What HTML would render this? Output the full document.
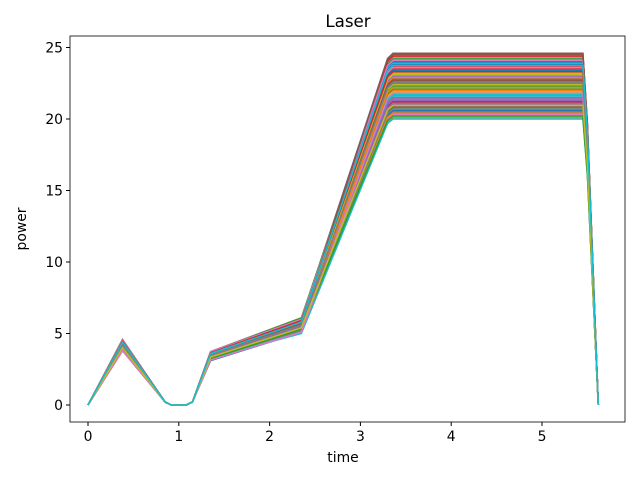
<!DOCTYPE html>
<html><head><meta charset="utf-8"><style>
body{margin:0;background:#fff}
svg{display:block;font-family:"DejaVu Sans","Liberation Sans",sans-serif}
</style></head><body>
<svg id="chart" width="640" height="480">
<rect width="640" height="480" fill="#fff"/>
<text x="348" y="27" font-size="16.7" text-anchor="middle">Laser</text>
<g id="lines"></g>
<rect x="70" y="36" width="555" height="386" fill="none" stroke="#000" stroke-width="0.8"/>
<g id="xt"></g>
<g id="yt"></g>
<text x="343" y="462" font-size="13.9" text-anchor="middle">time</text>
<text transform="translate(26,229) rotate(-90)" font-size="13.9" text-anchor="middle">power</text>
</svg>
<script>
const times=[0,0.38,0.85,0.92,1.08,1.15,1.35,2.35,3.3,3.36,5.45,5.5,5.62];
const peaks=[4.5,3.8,4.2,4.4,3.9,4.1,4.6,4.0,4.3,3.85,4.45,4.15,3.95,4.35,4.05,4.5,3.9,4.25,4.1,4.4,3.8,4.2,4.55,4.0,4.3,3.9,4.45,4.1,4.2,4.0,4.3,3.9,4.1,4.4,3.85,4.2,4.5,4.0,4.25,3.95,4.35,4.1,3.9,4.45,4.15,4.3,3.8,4.2,4.0,4.4];
const mid1=[3.7,3.2,3.5,3.6,3.3,3.4,3.75,3.25,3.55,3.15,3.65,3.45,3.3,3.6,3.35,3.7,3.2,3.5,3.4,3.6,3.1,3.5,3.7,3.3,3.55,3.25,3.65,3.4,3.45,3.3,3.5,3.2,3.4,3.6,3.3,3.5,3.7,3.3,3.5,3.2,3.6,3.4,3.25,3.65,3.45,3.55,3.15,3.5,3.35,3.6];
const mid2=[6.0,5.2,5.6,5.9,5.4,5.5,6.1,5.1,5.7,5.3,5.8,5.5,5.2,5.9,5.4,6.0,5.3,5.6,5.5,5.8,5.1,5.6,6.1,5.3,5.7,5.2,5.9,5.4,5.6,5.0,5.7,5.2,5.5,5.9,5.3,5.6,6.0,5.2,5.7,5.1,5.8,5.4,5.3,5.9,5.5,5.7,5.1,5.6,5.4,5.8];
const plateaus=[24.6,20.1,22.3,23.7,21.0,22.8,24.3,20.5,23.2,21.6,24.0,22.0,20.8,23.5,21.3,24.5,20.3,22.6,21.9,23.9,20.6,22.9,24.2,21.2,23.0,20.9,23.6,21.5,22.4,20.0,23.4,20.4,22.1,24.4,21.1,22.7,24.1,20.7,23.1,21.7,23.8,22.2,20.2,23.3,21.4,24.6,21.8,22.5,20.95,23.75];
const colors=["#1f77b4","#ff7f0e","#2ca02c","#d62728","#9467bd","#8c564b","#e377c2","#7f7f7f","#bcbd22","#17becf"];
const X=v=>88+v*90.8, Y=v=>405-v*14.3;
const ns="http://www.w3.org/2000/svg";
const g=document.getElementById('lines');
for(let i=0;i<plateaus.length;i++){
  const vals=[0,peaks[i],0.2,0,0,0.2,mid1[i],mid2[i],plateaus[i]*0.985,plateaus[i],plateaus[i],plateaus[i]*0.8,0];
  const p=document.createElementNS(ns,'polyline');
  p.setAttribute('points',times.map((t,j)=>X(t).toFixed(1)+','+Y(vals[j]).toFixed(1)).join(' '));
  p.setAttribute('fill','none');p.setAttribute('stroke',colors[i%10]);p.setAttribute('stroke-width','1.5');
  
  
  g.appendChild(p);
}
const xticks=[0,1,2,3,4,5], yticks=[0,5,10,15,20,25];
const xt=document.getElementById('xt'), yt=document.getElementById('yt');
xticks.forEach(v=>{
  const l=document.createElementNS(ns,'line');
  l.setAttribute('x1',X(v));l.setAttribute('x2',X(v));l.setAttribute('y1',422);l.setAttribute('y2',426);l.setAttribute('stroke','#000');
  
  
  xt.appendChild(l);
  const t=document.createElementNS(ns,'text');
  t.setAttribute('x',X(v));t.setAttribute('y',441);t.setAttribute('font-size','13.9');t.setAttribute('text-anchor','middle');t.textContent=v;
  
  
  xt.appendChild(t);
});
yticks.forEach(v=>{
  const l=document.createElementNS(ns,'line');
  l.setAttribute('x1',66);l.setAttribute('x2',70);l.setAttribute('y1',Y(v));l.setAttribute('y2',Y(v));l.setAttribute('stroke','#000');
  
  
  yt.appendChild(l);
  const t=document.createElementNS(ns,'text');
  t.setAttribute('x',63);t.setAttribute('y',Y(v)+5);t.setAttribute('font-size','13.9');t.setAttribute('text-anchor','end');t.textContent=v;
  
  
  yt.appendChild(t);
});
</script>
</body></html>
